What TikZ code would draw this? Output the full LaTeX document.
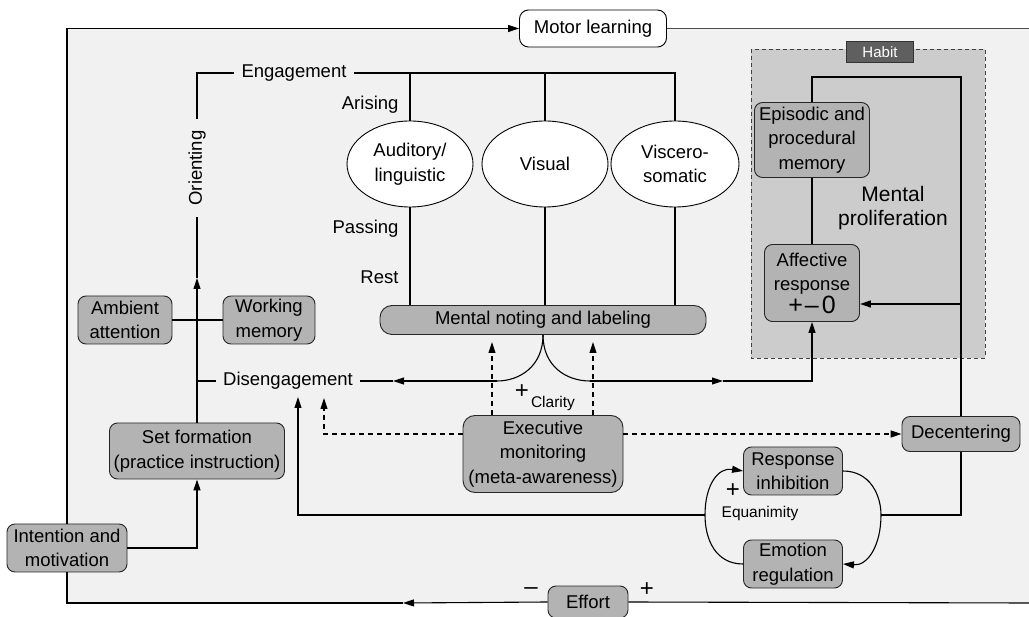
\documentclass[tikz,border=0pt]{standalone}
\usepackage{fontspec}
\setmainfont{Liberation Sans}
\usetikzlibrary{shapes.geometric,arrows.meta}
\definecolor{bgc}{RGB}{241,241,241}
\definecolor{boxc}{RGB}{179,179,179}
\definecolor{habc}{RGB}{204,204,204}
\definecolor{labc}{RGB}{95,95,95}
\begin{document}
\begin{tikzpicture}[x=1pt,y=-1pt, line width=1.1pt, >={Triangle[length=11pt,width=7pt]},
  font=\fontsize{18.5}{24.5}\selectfont,
  box/.style={draw=black!85, line width=0.9pt, fill=boxc, rounded corners=8pt, align=center, inner sep=1pt},
  ell/.style={ellipse, draw, fill=white, line width=0.9pt, minimum width=126pt, minimum height=86pt, align=center, inner sep=0pt},
  lbl/.style={inner sep=0pt},
  sign/.style={inner sep=0pt, font=\fontsize{24}{24}\selectfont},
  small/.style={font=\fontsize{15.5}{18}\selectfont, inner sep=0pt},
  dsh/.style={dash pattern=on 5pt off 4pt}]
\useasboundingbox (0,0) rectangle (1029,617);
\fill[bgc] (68,28.5) rectangle (1029,603);
\draw[dash pattern=on 4pt off 3pt, line width=0.9pt, draw=black!75, fill=habc] (751,49) rectangle (985,358);
\node[fill=labc, draw=black!80, line width=0.8pt, text=white, font=\fontsize{15}{18}\selectfont, minimum width=67pt, minimum height=21pt, inner sep=0pt] (habit) at (880,52) {Habit};

% nodes
\node[box, draw=black, fill=white, minimum width=147pt, minimum height=37pt, rounded corners=9pt] (motor) at (593,28.5) {Motor learning};
\node[lbl, inner xsep=7pt] (eng) at (294,73) {Engagement};
\node[lbl, rotate=90, inner xsep=11pt] (orient) at (197,168) {Orienting};
\node[lbl, inner xsep=7pt] (dis) at (288,381) {Disengagement};
\node[lbl, anchor=east] (ari) at (399,105) {Arising};
\node[lbl, anchor=east] (pas) at (399,229) {Passing};
\node[lbl, anchor=east] (rest) at (399,277) {Rest};
\node[ell] (aud) at (410,164) {Auditory/\\linguistic};
\node[ell] (vis) at (545,164) {Visual};
\node[ell, minimum width=128pt] (visc) at (675,164) {Viscero-\\somatic};
\node[box, minimum width=326pt, minimum height=29pt, rounded corners=12pt] (note) at (543,320) {Mental noting and labeling};
\node[box, minimum width=160pt, minimum height=77pt, rounded corners=12pt] (exec) at (543,454) {Executive\\monitoring\\(meta-awareness)};
\node[box, minimum width=118pt, minimum height=35pt] (decen) at (961,434) {Decentering};
\node[box, minimum width=99pt, minimum height=48pt] (resp) at (793,471) {Response\\inhibition};
\node[box, minimum width=99pt, minimum height=48pt] (emot) at (793,564) {Emotion\\regulation};
\node[box, minimum width=80pt, minimum height=32pt] (effort) at (588,602) {Effort};
\node[box, minimum width=115pt, minimum height=75pt] (epi) at (812,140) {Episodic and\\procedural\\memory};
\node[box, minimum width=95pt, minimum height=77pt] (aff) at (812,283) {Affective\\response\\[-2pt]{\fontsize{25}{24}\selectfont +\kern2pt–\kern3pt0}};
\node[align=center, font=\fontsize{21}{24}\selectfont] (prolif) at (893,208) {Mental\\proliferation};
\node[box, minimum width=94pt, minimum height=48pt] (amb) at (125,320) {Ambient\\attention};
\node[box, minimum width=92pt, minimum height=48pt] (work) at (269,320) {Working\\memory};
\node[box, minimum width=175pt, minimum height=56pt] (setf) at (197,451) {Set formation\\(practice instruction)};
\node[box, minimum width=120pt, minimum height=48pt] (intent) at (67,548) {Intention and\\motivation};
\node[sign] (pc) at (522,392) {+};
\node[small] (clar) at (553,403) {Clarity};
\node[sign] (pe) at (733,491) {+};
\node[small] (equ) at (760,513) {Equanimity};
\node[sign] (em) at (531,591) {–};
\node[sign] (ep) at (647,590) {+};

% coordinates
\coordinate (ea) at (403,603);
\coordinate (re) at (1029,603);
\coordinate (rt) at (1029,28.5);
\coordinate (oa) at (197,278);
\coordinate (dt) at (197,381);
\coordinate (jl) at (497,381);
\coordinate (jr) at (590,381);
\coordinate (al) at (393,381);
\coordinate (ar) at (723,381);
\coordinate (d1) at (492,342);
\coordinate (d2) at (593,342);
\coordinate (dy) at (0,434);
\coordinate (d3) at (324,398);
\coordinate (ty) at (0,77);
\coordinate (ay) at (0,304);
\coordinate (lr) at (881,515);
\coordinate (ll) at (705,515);
\coordinate (dg) at (298,397);

% outer loop
\draw (re) -- (effort.east);
\draw[->] (effort.west) -- (ea);
\draw (ea) -| (intent.south);
\draw[->] (intent.north) |- (motor.west);
\draw[black!70] (motor.east) -- (rt);

% orienting / engagement
\draw[->] (setf.north) -- (oa);
\draw (oa) -- (orient.west);
\draw (orient.east) |- (eng.west);
\draw (eng.east) -| (visc.north);
\draw (aud.north) -- (aud.north |- eng.east);
\draw (vis.north) -- (vis.north |- eng.east);
\draw (aud.south) -- (aud.south |- note.north);
\draw (vis.south) -- (vis.south |- note.north);
\draw (visc.south) -- (visc.south |- note.north);
\draw (dt) -- (dis.west);
\draw (amb.east) -- (work.west);
\draw[->] (intent.east) -| (setf.south);

% junction below noting
\draw (note.south) .. controls (543,366) and (520,381) .. (jl);
\draw[->] (jl) -- (al);
\draw (al) -- (dis.east);
\draw (note.south) .. controls (543,366) and (566,381) .. (jr);
\draw[->] (jr) -- (ar);
\draw[->] (ar) -| (aff.south);

% dashed from executive monitoring
\draw[dsh,->] (exec.north -| d1) -- (d1);
\draw[dsh,->] (exec.north -| d2) -- (d2);
\draw[dsh,->] (exec.west |- dy) -| (d3);
\draw[dsh,->] (exec.east |- dy) -- (decen.west);

% habit loop
\draw (decen.north) -- (decen.north |- ty) -| (epi.north);
\draw[->] (decen.north |- ay) -- (aff.east |- ay);
\draw (epi.south) -- (aff.north);

% decentering down
\draw (decen.south) |- (lr);
\draw[->] (ll) -| (dg);
\draw[->] (emot.west) .. controls (716,564) and (705,540) .. (ll) .. controls (705,485) and (718,467) .. (resp.west);
\draw[->] (resp.east) .. controls (870,471) and (881,495) .. (lr) .. controls (881,545) and (868,566) .. (emot.east);
\end{tikzpicture}
\end{document}
